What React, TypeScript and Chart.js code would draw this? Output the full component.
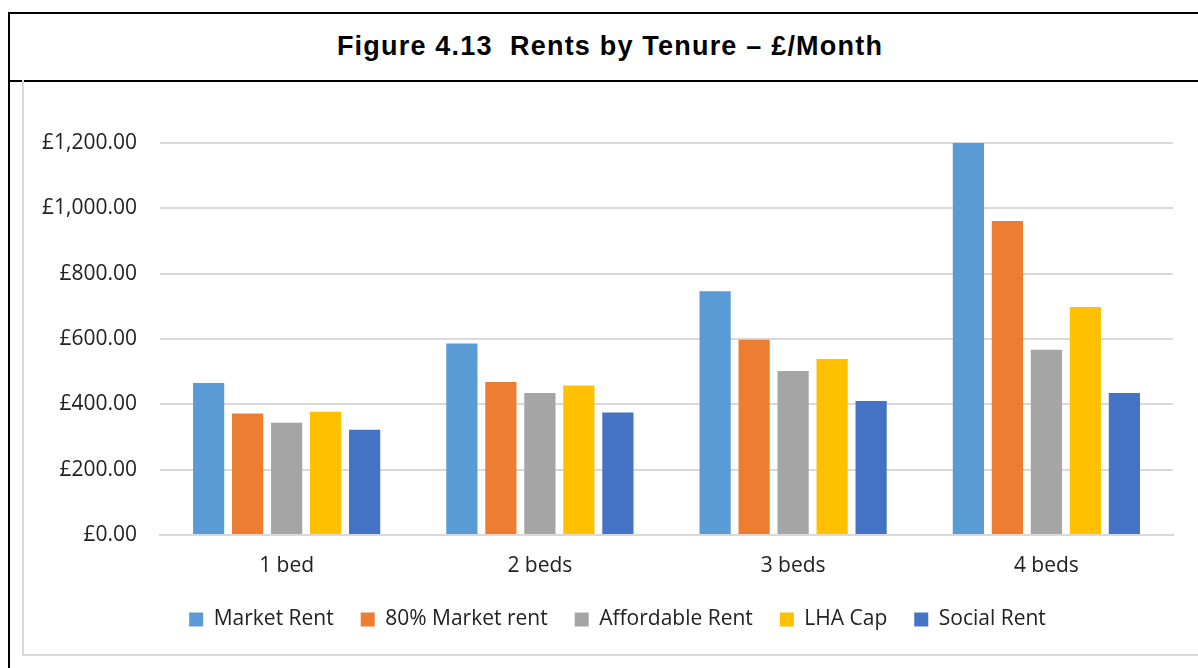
import React, { useEffect, useRef } from "react";
import { Chart, registerables } from "chart.js";

Chart.register(...registerables);

const categories = ["1 bed", "2 beds", "3 beds", "4 beds"];
const marketRent = [465, 586, 746, 1200];
const market80 = [372, 468, 598, 961];
const affordableRent = [344, 435, 502, 567];
const lhaCap = [377, 458, 539, 698];
const socialRent = [322, 375, 410, 435];
const seriesNames = ["Market Rent", "80% Market rent", "Affordable Rent", "LHA Cap", "Social Rent"];
const seriesColors = ["#5B9BD5", "#ED7D31", "#A5A5A5", "#FFC000", "#4472C4"];
const titleText = "Figure 4.13  Rents by Tenure \u2013 \u00a3/Month";

const FONT = "'Open Sans', Lato, sans-serif";

const shiftLegend = {
  id: "shiftLegend",
  afterLayout(chart: any) {
    const lg = chart.legend;
    if (lg) {
      lg.left += 19;
      lg.right += 19;
    }
  },
};

export default function App() {
  const canvasRef = useRef<HTMLCanvasElement | null>(null);

  useEffect(() => {
    if (!canvasRef.current) return;
    const values = [marketRent, market80, affordableRent, lhaCap, socialRent];
    const chart = new Chart(canvasRef.current, {
      type: "bar",
      data: {
        labels: categories,
        datasets: seriesNames.map((name, i) => ({
          label: name,
          data: values[i],
          backgroundColor: seriesColors[i],
          borderWidth: 0,
          categoryPercentage: 0.77,
          barPercentage: 0.8,
        })),
      },
      plugins: [shiftLegend],
      options: {
        animation: false,
        responsive: false,
        maintainAspectRatio: false,
        layout: { padding: { top: 62, right: 25, left: 0, bottom: 15 } },
        plugins: {
          title: { display: false },
          tooltip: { enabled: false },
          legend: {
            position: "bottom",
            labels: {
              boxWidth: 14,
              boxHeight: 14,
              padding: 27,
              color: "#222",
              font: { family: FONT, size: 21 },
            },
          },
        },
        scales: {
          x: {
            afterFit: (scale: any) => { scale.height = 47; },
            grid: { display: false, drawTicks: false },
            border: { color: "#d9d9d9", width: 2 },
            ticks: { color: "#222", font: { family: FONT, size: 21 }, padding: 18 },
          },
          y: {
            min: 0,
            max: 1200,
            afterFit: (scale: any) => { scale.width = 136; },
            grid: { color: "#d9d9d9", lineWidth: 2, drawTicks: false },
            border: { display: false },
            ticks: {
              stepSize: 200,
              padding: 23,
              color: "#222",
              font: { family: FONT, size: 21 },
              callback: (v: any) =>
                "\u00a3" + Number(v).toLocaleString("en-GB", { minimumFractionDigits: 2, maximumFractionDigits: 2 }),
            },
          },
        },
      },
    });
    return () => chart.destroy();
  }, []);

  return (
    <div style={{ position: "absolute", left: 0, top: 0, width: 1198, height: 668, overflow: "hidden", background: "#fff" }}>
      {/* title box */}
      <div style={{ position: "absolute", left: 8, top: 12, width: 1200, height: 66, borderTop: "2px solid #000", borderLeft: "2px solid #000", borderBottom: "2px solid #000" }} />
      <div style={{ position: "absolute", left: 8, top: 80, width: 2, height: 600, background: "#000" }} />
      <div style={{ position: "absolute", left: 10, top: 14, width: 1200, height: 64, display: "flex", alignItems: "center", justifyContent: "center" }}>
        <span style={{ fontFamily: "'Liberation Sans', Arial, sans-serif", fontWeight: "bold", fontSize: 27, letterSpacing: "1.2px", whiteSpace: "pre", color: "#000" }}>{titleText}</span>
      </div>
      {/* chart box */}
      <div style={{ position: "absolute", left: 22, top: 80, width: 1200, height: 574, borderLeft: "2px solid #d9d9d9", borderBottom: "2px solid #d9d9d9" }} />
      <canvas ref={canvasRef} width={1174} height={574} style={{ position: "absolute", left: 24, top: 81, width: 1174, height: 574 }} />
    </div>
  );
}
